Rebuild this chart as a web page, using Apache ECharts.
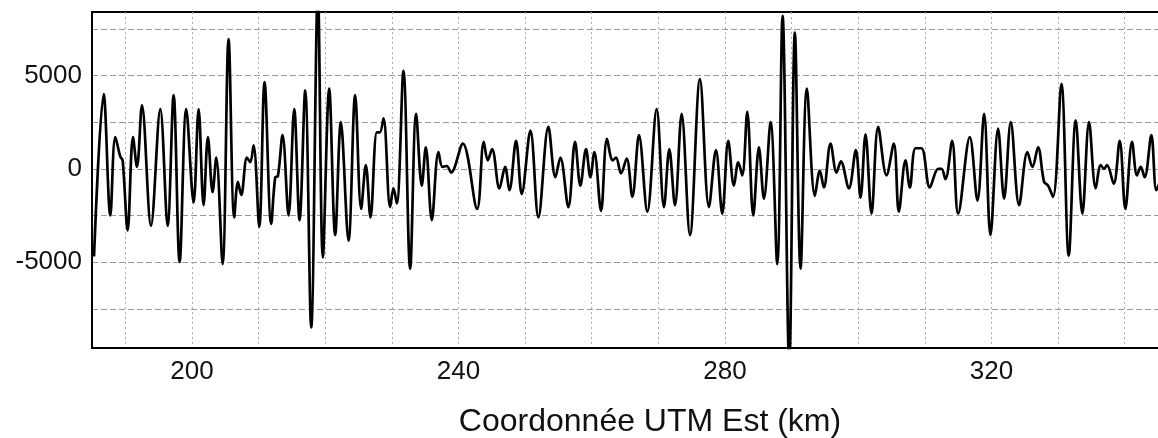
<!DOCTYPE html>
<html>
<head>
<meta charset="utf-8">
<script src="https://cdn.jsdelivr.net/npm/echarts@6/dist/echarts.min.js"></script>
<style>
  html, body { margin: 0; padding: 0; background: #fff; }
  #chart { width: 1158px; height: 438px; }
</style>
</head>
<body>
<div id="chart"></div>
<script>
// profil : distance (km) et valeur
var distKm = [
    185.3, 186.75, 187.75, 188.5, 189.25, 189.6, 190.35, 191.15, 191.75, 192.5,
    193.85, 195.25, 196.35, 197.25, 198.15, 199.15, 200.25, 201.0, 201.75, 202.4,
    203.1, 203.65, 204.6, 205.5, 206.35, 206.9, 207.4, 208.25, 208.75, 209.25,
    210.1, 210.9, 211.9, 212.5, 212.9, 213.6, 214.5, 215.35, 216.15, 217.0,
    217.9, 218.9, 219.65, 220.6, 221.5, 222.35, 223.5, 224.5, 225.4, 226.1,
    226.8, 227.75, 228.2, 228.75, 229.75, 230.25, 230.75, 231.75, 232.75, 233.65,
    234.5, 235.1, 236.0, 237.0, 237.6, 238.25, 238.9, 240.65, 242.8, 243.8,
    244.4, 245.05, 246.15, 247.0, 247.65, 248.65, 249.5, 250.8, 252.0, 253.5,
    254.55, 255.3, 256.5, 257.5, 258.3, 259.15, 259.8, 260.4, 261.4, 262.3,
    263.15, 263.65, 264.4, 265.25, 266.1, 267.1, 268.35, 269.75, 270.85, 271.65,
    272.5, 273.5, 274.75, 276.25, 277.6, 278.65, 279.6, 280.5, 281.35, 282.0,
    282.6, 283.35, 284.25, 285.1, 285.85, 286.85, 287.85, 288.65, 289.65, 290.5,
    291.35, 292.3, 293.5, 294.25, 294.85, 295.85, 296.75, 297.4, 298.6, 299.65,
    300.35, 301.1, 302.0, 303.0, 304.25, 305.35, 306.1, 307.1, 307.75, 308.6,
    309.5, 310.75, 312.0, 312.5, 313.1, 314.1, 315.0, 316.75, 317.9, 318.9,
    319.85, 321.0, 321.9, 322.9, 324.15, 325.4, 326.15, 327.0, 327.9, 328.5,
    329.25, 330.5, 331.6, 332.65, 333.65, 334.65, 335.65, 336.4, 336.9, 337.35,
    338.35, 339.25, 340.1, 341.1, 341.85, 342.4, 343.0, 344.0, 344.75, 345.3
];
var valeurs = [
    -4700, 4000, -2500, 1700, 650, 450, -3300, 1700, 100, 3400,
    -3050, 3200, -3050, 3950, -5000, 3200, -1800, 3200, -1950, 1700,
    -1250, 600, -5100, 6950, -2600, -700, -1400, 600, 350, 1250,
    -3100, 4650, -2950, -450, -400, 1800, -2500, 3200, -2750, 4200,
    -8500, 9500, -4750, 4300, -3550, 2500, -3850, 3950, -2150, 200,
    -2600, 1950, 1950, 2700, -2050, -1050, -1850, 5250, -5350, 2950,
    -900, 1150, -2750, 900, 100, 150, -200, 1350, -2150, 1450,
    450, 1050, -1050, 100, -1150, 1500, -1350, 2050, -2600, 2250,
    -450, 600, -2050, 1450, -900, 1050, -450, 900, -2250, 1600,
    450, 600, -250, 550, -1500, 1800, -2300, 3200, -2050, 1050,
    -1950, 2950, -3550, 4800, -2050, 1000, -2400, 1500, -900, 350,
    -350, 3050, -2500, 1150, -1600, 2500, -5100, 8200, -10500, 7300,
    -5350, 4300, -1450, -100, -1000, 1350, -200, 400, -1050, 1000,
    -1550, 1850, -2400, 2250, -350, 1350, -2300, 450, -1000, 1100,
    1100, -1000, 0, 0, -550, 1500, -2400, 1700, -1700, 2950,
    -3550, 2150, -1600, 2500, -1950, 900, 100, 1150, -700, -900,
    -1500, 4550, -4650, 2600, -2400, 2500, -1050, 200, 0, 200,
    -800, 1500, -2150, 1450, -350, 100, -450, 1800, -1150, -700
];

var xGrille = [190, 200, 210, 220, 230, 240, 250, 260, 270, 280, 290, 300, 310, 320, 330, 340];
var xEtiquettes = [200, 240, 280, 320];
var yGrille = [-7500, -5000, -2500, 0, 2500, 5000, 7500];
var yEtiquettes = [-5000, 0, 5000];

var donnees = distKm.map(function (d, i) {
    return [d, valeurs[i]];
});

var chartDom = document.getElementById('chart');
var chart = echarts.init(chartDom);
var option = {
    animation: false,
    backgroundColor: '#fff',
    textStyle: { fontFamily: 'Liberation Sans, Arial, Helvetica, sans-serif' },
    grid: {
        left: 92,
        right: -2,
        top: 12,
        bottom: 90,
        outerBoundsMode: 'none',
        show: true,
        borderColor: '#000',
        borderWidth: 2,
        backgroundColor: 'transparent'
    },
    xAxis: {
        type: 'value',
        min: 185,
        max: 345.3,
        name: 'Coordonnée UTM Est (km)',
        nameLocation: 'middle',
        nameGap: 58,
        nameTextStyle: { fontSize: 32, color: '#111', padding: [0, 0, 0, 48] },
        axisLine: { show: true, onZero: false, lineStyle: { color: '#000', width: 2 } },
        axisTick: { show: false, customValues: xGrille },
        axisLabel: {
            customValues: xEtiquettes,
            fontSize: 26,
            color: '#111',
            margin: 11
        },
        splitLine: {
            show: true,
            lineStyle: { color: '#aaa', width: 1, type: [2, 3] }
        }
    },
    yAxis: {
        type: 'value',
        min: -9600,
        max: 8400,
        axisLine: { show: true, onZero: false, lineStyle: { color: '#000', width: 2 } },
        axisTick: { show: false, customValues: yGrille },
        axisLabel: {
            customValues: yEtiquettes,
            fontSize: 26,
            color: '#111',
            margin: 10,
            formatter: function (v) { return String(v); }
        },
        splitLine: {
            show: true,
            lineStyle: { color: '#999', width: 1, type: [6, 3] }
        }
    },
    series: [
        {
            type: 'line',
            data: donnees,
            smooth: 0.35,
            showSymbol: false,
            clip: true,
            lineStyle: { color: '#000', width: 2.7 }
        }
    ]
};
chart.setOption(option);
</script>
</body>
</html>
